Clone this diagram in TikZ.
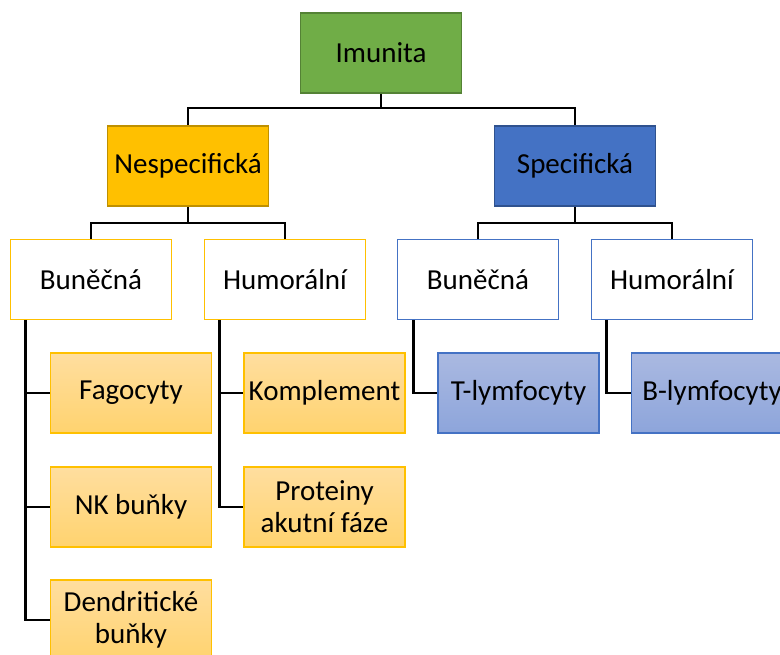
\documentclass[tikz,border=0pt]{standalone}
\usepackage{fontspec}
\setmainfont{Carlito}
\definecolor{zelena}{HTML}{70AD47}
\definecolor{zelenaokraj}{HTML}{548235}
\definecolor{zluta}{HTML}{FFC000}
\definecolor{zlutaokraj}{HTML}{BF9000}
\definecolor{modra}{HTML}{4472C4}
\definecolor{modraokraj}{HTML}{2F528F}
\definecolor{zlutahore}{HTML}{FFDE9F}
\definecolor{zlutadole}{HTML}{FFD36F}
\definecolor{modrahore}{HTML}{AAB9E1}
\definecolor{modradole}{HTML}{8DA5DB}
\begin{document}
\begin{tikzpicture}[x=1pt,y=-1pt,
   box/.style={minimum width=161pt,minimum height=80pt,line width=1.8pt,align=center,inner sep=1pt,
      font=\fontsize{29}{32}\selectfont},
   zlutylist/.style={box,draw=zluta,top color=zlutahore,bottom color=zlutadole},
   modrylist/.style={box,draw=modra,top color=modrahore,bottom color=modradole},
   spoj/.style={line width=2.6pt}]
   \path[use as bounding box,fill=white] (0,0) rectangle (780,655);
   \clip (0,0) rectangle (780,655);
   \node[box,fill=zelena,draw=zelenaokraj] (imunita) at (381,53){Imunita};
   \node[box,fill=zluta,draw=zlutaokraj] (nesp) at (188,166){Nespecifická};
   \node[box,fill=modra,draw=modraokraj] (spec) at (575,166){Specifická};
   \coordinate (j0) at (381,108);
   \draw[spoj] (imunita.south) -- (j0);
   \draw[spoj] (nesp.north) |- (j0) -| (spec.north);
   \foreach \jm/\x/\barva/\xtext in {nb/91/zluta/Buněčná, nh/285/zluta/Humorální, sb/478/modra/Buněčná, sh/672/modra/Humorální}
   {
       \node[box,draw=\barva,fill=white] (\jm) at (\x,279.5){\xtext};
   }
   \coordinate (j1) at (188,223);
   \coordinate (j2) at (575,223);
   \draw[spoj] (nesp.south) -- (j1);
   \draw[spoj] (nb.north) |- (j1) -| (nh.north);
   \draw[spoj] (spec.south) -- (j2);
   \draw[spoj] (sb.north) |- (j2) -| (sh.north);
   \foreach \jm/\y/\xtext in {fag/393/Fagocyty, nk/507/NK buňky, dend/620/Dendritické\\buňky}
   {
       \node[zlutylist] (\jm) at (131,\y){\xtext};
       \draw[spoj] (nb.south west) ++(16,0) |- (\jm.west);
   }
   \foreach \jm/\y/\xtext in {kompl/393/Komplement, prot/507/Proteiny\\akutní fáze}
   {
       \node[zlutylist] (\jm) at (324.5,\y){\xtext};
       \draw[spoj] (nh.south west) ++(16,0) |- (\jm.west);
   }
   \node[modrylist] (tlym) at (518.5,393){T-lymfocyty};
   \node[modrylist] (blym) at (712,393){B-lymfocyty};
   \draw[spoj] (sb.south west) ++(17,0) |- (tlym.west);
   \draw[spoj] (sh.south west) ++(16,0) |- (blym.west);
\end{tikzpicture}
\end{document}
